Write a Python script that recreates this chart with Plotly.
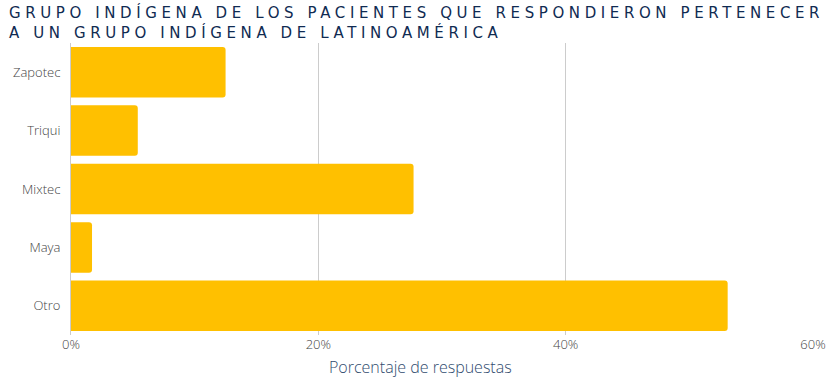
import plotly.graph_objects as go

categories = ["Zapotec", "Triqui", "Mixtec", "Maya", "Otro"]
values = [0.125, 0.054, 0.277, 0.017, 0.531]
x_ticks = [0, 0.2, 0.4, 0.6]
x_tick_labels = ["0%", "20%", "40%", "60%"]
title_lines = ["GRUPO INDÍGENA DE LOS PACIENTES QUE RESPONDIERON PERTENECER",
               "A UN GRUPO INDÍGENA DE LATINOAMÉRICA"]
x_title = "Porcentaje de respuestas"

W, H = 840, 378
L, R, T, B = 71, 27, 43, 43
PW, PH = W - L - R, H - T - B

fig = go.Figure(go.Bar(
    x=values, y=categories, orientation="h",
    marker=dict(color="#FFC000", cornerradius=3, line=dict(width=0)),
    hoverinfo="x+y",
))

title_html = "<br>".join(
    '<span style="letter-spacing:4.6px">' + t + "</span>" for t in title_lines
)
fig.add_annotation(
    text=title_html, xref="paper", yref="paper",
    x=-(L - 7) / PW, y=(PH + T - 1) / PH, xanchor="left", yanchor="top",
    align="left", showarrow=False,
    font=dict(family="DejaVu Sans", size=15, color="#102b52"),
)
fig.add_annotation(
    text=x_title, xref="paper", yref="paper",
    x=(420 - L) / PW, y=-19 / PH, xanchor="center", yanchor="top",
    showarrow=False,
    font=dict(family="Open Sans", size=16, color="#2f4b6e", weight=300),
)

fig.update_layout(
    width=W, height=H,
    margin=dict(l=L, r=R, t=T, b=B),
    paper_bgcolor="white", plot_bgcolor="white",
    bargap=0.135,
    showlegend=False,
    font=dict(family="Open Sans", color="#444444", size=13),
    xaxis=dict(
        range=[0, 0.6], tickvals=x_ticks, ticktext=x_tick_labels,
        showgrid=True, gridcolor="#cccccc", gridwidth=1, zeroline=False,
        showline=False, ticks="", automargin=False,
        tickfont=dict(size=13, color="#444444", weight=300),
        fixedrange=True,
    ),
    yaxis=dict(
        categoryorder="array", categoryarray=categories, autorange="reversed",
        showline=True, linecolor="#cccccc", linewidth=1, showgrid=False,
        ticks="", ticklabelstandoff=7, automargin=False,
        tickfont=dict(size=13, color="#444444", weight=300),
        fixedrange=True,
    ),
)

fig.write_html("out.html", config={"displayModeBar": False},
               post_script="document.body.style.margin='0px';")
